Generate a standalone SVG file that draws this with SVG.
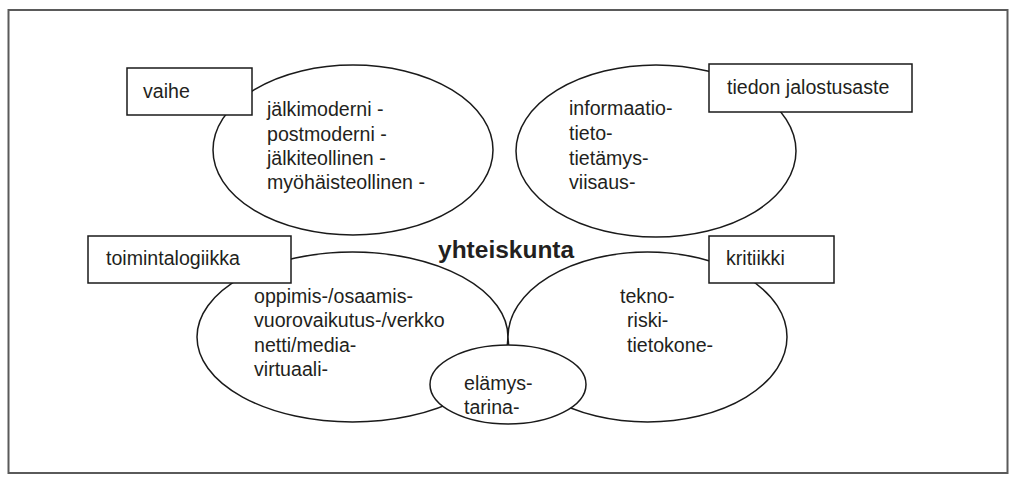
<svg xmlns="http://www.w3.org/2000/svg" width="1009" height="477" viewBox="0 0 1009 477">
  <style>
    .frame { fill: #ffffff; stroke: #5a5a5a; stroke-width: 2; }
    .oval { fill: #ffffff; stroke: #1a1a1a; stroke-width: 1.5; }
    .box { fill: #ffffff; stroke: #1a1a1a; stroke-width: 1.5; }
    .t { font-family: "Liberation Sans", Arial, sans-serif; font-size: 19.6px; fill: #231f20; }
    .title { font-family: "Liberation Sans", Arial, sans-serif; font-size: 24.5px; font-weight: bold; fill: #231f20; }
  </style>

  <rect class="frame" x="8.5" y="10" width="999" height="463"/>

  <!-- top-left: phase -->
  <g id="vaihe">
    <ellipse class="oval" cx="353" cy="150" rx="140" ry="85"/>
    <text class="t" x="267" y="116">jälkimoderni -</text>
    <text class="t" x="267" y="141">postmoderni -</text>
    <text class="t" x="267" y="165">jälkiteollinen -</text>
    <text class="t" x="267" y="189">myöhäisteollinen -</text>
    <rect class="box" x="127" y="68" width="125" height="47"/>
    <text class="t" x="143" y="98">vaihe</text>
  </g>

  <!-- top-right: refinement level of knowledge -->
  <g id="tiedon-jalostusaste">
    <ellipse class="oval" cx="656" cy="151" rx="140" ry="86"/>
    <text class="t" x="569" y="115">informaatio-</text>
    <text class="t" x="569" y="140">tieto-</text>
    <text class="t" x="569" y="165">tietämys-</text>
    <text class="t" x="569" y="189">viisaus-</text>
    <rect class="box" x="709" y="64" width="203" height="48"/>
    <text class="t" x="727" y="94">tiedon jalostusaste</text>
  </g>

  <!-- bottom-left: logic of action -->
  <g id="toimintalogiikka">
    <ellipse class="oval" cx="352.5" cy="337" rx="155.5" ry="85"/>
    <text class="t" x="254" y="303">oppimis-/osaamis-</text>
    <text class="t" x="254" y="327">vuorovaikutus-/verkko</text>
    <text class="t" x="254" y="352">netti/media-</text>
    <text class="t" x="254" y="376">virtuaali-</text>
    <rect class="box" x="88" y="236" width="203" height="47"/>
    <text class="t" x="106" y="265">toimintalogiikka</text>
  </g>

  <!-- bottom-right: critique -->
  <g id="kritiikki">
    <ellipse class="oval" cx="647.5" cy="337" rx="139.5" ry="85"/>
    <text class="t" x="620" y="303">tekno-</text>
    <text class="t" x="627" y="327">riski-</text>
    <text class="t" x="627" y="352">tietokone-</text>
    <rect class="box" x="709" y="236" width="125" height="47"/>
    <text class="t" x="726" y="265">kritiikki</text>
  </g>

  <!-- centre title -->
  <g id="yhteiskunta">
    <text class="title" x="438" y="258">yhteiskunta</text>
  </g>

  <!-- small centre oval -->
  <g id="elamys">
    <ellipse class="oval" cx="508" cy="384.5" rx="78" ry="39.5"/>
    <text class="t" x="464" y="390">elämys-</text>
    <text class="t" x="464" y="414">tarina-</text>
  </g>

  <g id="connectors"></g>
</svg>
